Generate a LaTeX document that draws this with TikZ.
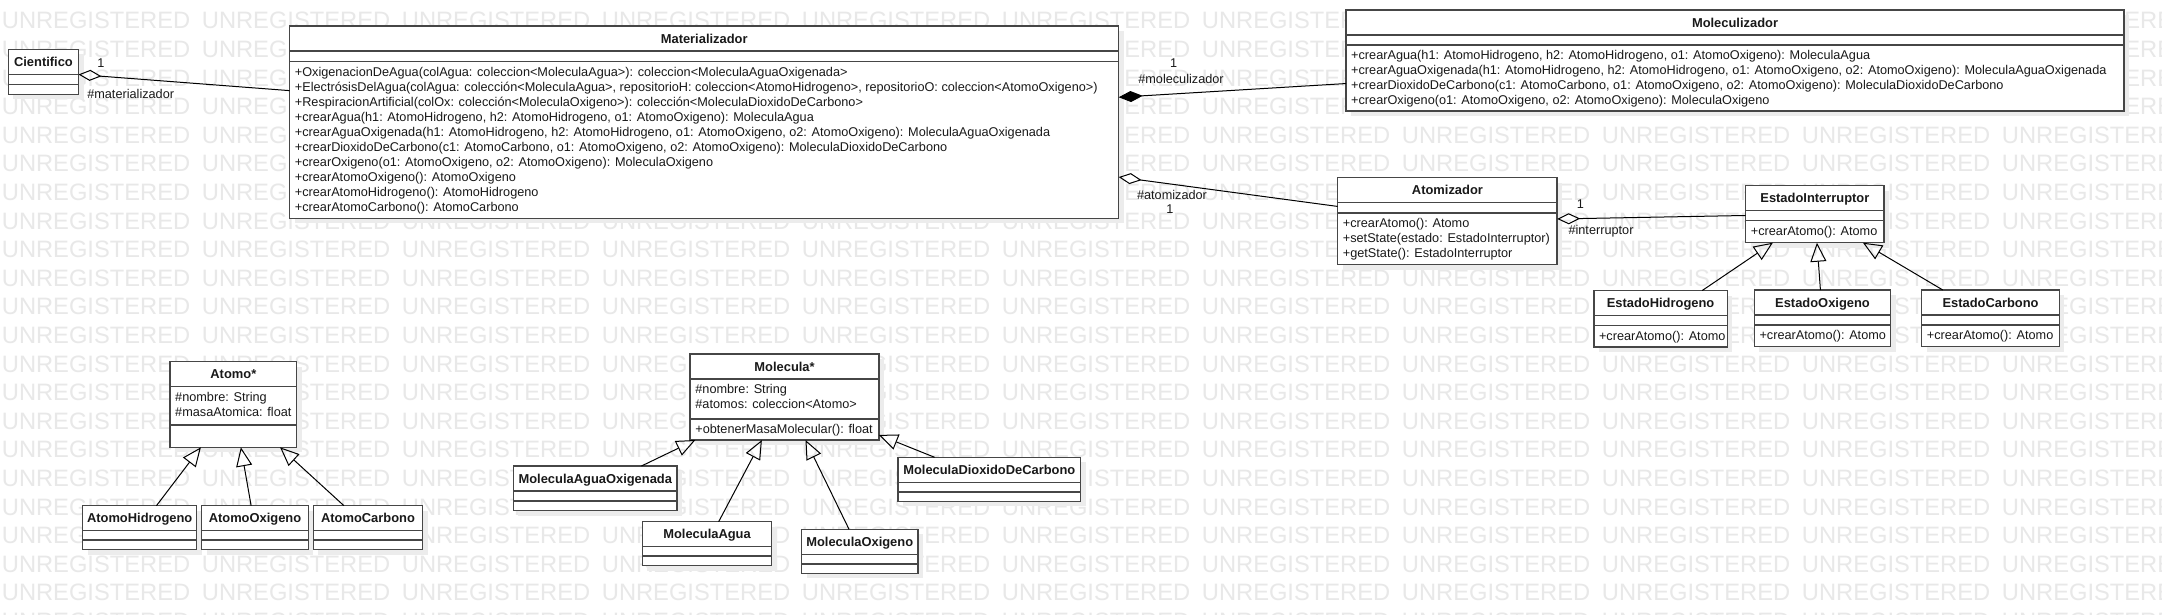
\documentclass[tikz,border=0pt]{standalone}
\usepackage{fontspec}
\setmainfont{Liberation Sans}
\usetikzlibrary{arrows.meta,fit}
\definecolor{boxline}{RGB}{70,70,70}
\definecolor{txt}{RGB}{25,25,25}
\definecolor{wmark}{RGB}{232,232,232}
\definecolor{shadowc}{RGB}{236,236,236}
\tikzset{
  uml/.style={draw=boxline, line width=1.5pt, fill=white, inner sep=0pt, outer sep=0pt, rectangle},
  umltitle/.style={uml, minimum height=25pt, font=\fontsize{12.9}{15}\selectfont\bfseries, text=txt, text height=9.3pt, text depth=0pt, anchor=north west},
  umlcomp/.style={uml, anchor=north west},
  members/.style={font=\fontsize{12.7}{15}\selectfont, text=txt, align=left, inner sep=0pt, anchor=north west},
  whole/.style={inner sep=0pt, outer sep=0pt, rectangle},
  conn/.style={line width=1pt, draw=black},
  gen/.style={conn, -{Triangle[open, length=19pt, width=16pt]}},
  agg/.style={conn, {Diamond[open, length=23pt, width=11pt]}-},
  compo/.style={conn, {Diamond[length=24pt, width=11pt]}-},
  mult/.style={font=\fontsize{12.7}{15}\selectfont, text=txt, inner sep=0pt},
  wm/.style={font=\fontsize{23.7}{24}\selectfont, text=wmark, inner sep=0pt, anchor=west},
}
% #1 name, #2 x, #3 y, #4 width, #5 attr height, #6 ops height, #7 title, #8 attrs, #9 ops
\newcommand{\umlclass}[9]{%
  \fill[shadowc] ({#2+5},{#3+5}) rectangle ++({#4},{25+#5+#6});
  \node[umltitle, minimum width=#4pt] (#1-t) at (#2,#3) {#7};
  \node[umlcomp, minimum width=#4pt, minimum height=#5pt] (#1-a) at (#1-t.south west) {};
  \node[umlcomp, minimum width=#4pt, minimum height=#6pt] (#1-o) at (#1-a.south west) {};
  \node[whole, fit=(#1-t)(#1-o)] (#1) {};
  \if\relax\detokenize{#8}\relax\else
    \node[members] (#1-at) at ([shift={(5,2.5)}]#1-a.north west) {\rule{0pt}{12pt}#8};
  \fi
  \if\relax\detokenize{#9}\relax\else
    \node[members] (#1-ot) at ([shift={(5,2.5)}]#1-o.north west) {\rule{0pt}{12pt}#9};
  \fi
}
\begin{document}
\begin{tikzpicture}[x=1pt, y=-1pt]
\useasboundingbox (0,0) rectangle (2162,614);
\clip (0,0) rectangle (2162,614);
\fill[white] (0,0) rectangle (2162,614);
% watermark
\foreach \r in {0,...,21}{
  \foreach \c in {0,...,10}{
    \node[wm] (wm-\r-\c) at ({1.7+200*\c},{20.7+28.6*\r}) {UNREGISTERED};
  }
}
% classes
\umlclass{cientifico}{8.4}{49.3}{70.1}{10}{10}{Cientifico}{}{}
\umlclass{materializador}{289.7}{26}{829}{10.3}{157}{Materializador}{}{%
+OxigenacionDeAgua(colAgua: coleccion<MoleculaAgua>): coleccion<MoleculaAguaOxigenada>\\
+ElectrósisDelAgua(colAgua: colección<MoleculaAgua>, repositorioH: coleccion<AtomoHidrogeno>, repositorioO: coleccion<AtomoOxigeno>)\\
+RespiracionArtificial(colOx: colección<MoleculaOxigeno>): colección<MoleculaDioxidoDeCarbono>\\
+crearAgua(h1: AtomoHidrogeno, h2: AtomoHidrogeno, o1: AtomoOxigeno): MoleculaAgua\\
+crearAguaOxigenada(h1: AtomoHidrogeno, h2: AtomoHidrogeno, o1: AtomoOxigeno, o2: AtomoOxigeno): MoleculaAguaOxigenada\\
+crearDioxidoDeCarbono(c1: AtomoCarbono, o1: AtomoOxigeno, o2: AtomoOxigeno): MoleculaDioxidoDeCarbono\\
+crearOxigeno(o1: AtomoOxigeno, o2: AtomoOxigeno): MoleculaOxigeno\\
+crearAtomoOxigeno(): AtomoOxigeno\\
+crearAtomoHidrogeno(): AtomoHidrogeno\\
+crearAtomoCarbono(): AtomoCarbono}
\umlclass{moleculizador}{1346}{10}{778}{10}{66}{Moleculizador}{}{%
+crearAgua(h1: AtomoHidrogeno, h2: AtomoHidrogeno, o1: AtomoOxigeno): MoleculaAgua\\
+crearAguaOxigenada(h1: AtomoHidrogeno, h2: AtomoHidrogeno, o1: AtomoOxigeno, o2: AtomoOxigeno): MoleculaAguaOxigenada\\
+crearDioxidoDeCarbono(c1: AtomoCarbono, o1: AtomoOxigeno, o2: AtomoOxigeno): MoleculaDioxidoDeCarbono\\
+crearOxigeno(o1: AtomoOxigeno, o2: AtomoOxigeno): MoleculaOxigeno}
\umlclass{atomizador}{1337.7}{177.5}{219.5}{10.5}{51.5}{Atomizador}{}{%
+crearAtomo(): Atomo\\
+setState(estado: EstadoInterruptor)\\
+getState(): EstadoInterruptor}
\umlclass{interruptor}{1745.7}{185.7}{138.3}{10}{22}{EstadoInterruptor}{}{+crearAtomo(): Atomo}
\umlclass{ehidro}{1593.8}{290.5}{133.5}{10}{21.5}{EstadoHidrogeno}{}{+crearAtomo(): Atomo}
\umlclass{eoxi}{1754.3}{290}{136.4}{10}{21.5}{EstadoOxigeno}{}{+crearAtomo(): Atomo}
\umlclass{ecarb}{1921.7}{290}{137.6}{10}{21.5}{EstadoCarbono}{}{+crearAtomo(): Atomo}
\umlclass{atomo}{170}{361.7}{126.7}{38.3}{22.3}{Atomo*}{\#nombre: String\\\#masaAtomica: float}{}
\umlclass{ahidro}{82.7}{505.7}{114}{9.5}{9.5}{AtomoHidrogeno}{}{}
\umlclass{aoxi}{201.7}{505.7}{106.6}{9.5}{9.5}{AtomoOxigeno}{}{}
\umlclass{acarb}{313.3}{505.7}{109.4}{9.5}{9.5}{AtomoCarbono}{}{}
\umlclass{molecula}{690.2}{354}{188.7}{40}{21}{Molecula*}{\#nombre: String\\\#atomos: coleccion<Atomo>}{+obtenerMasaMolecular(): float}
\umlclass{mao}{513.4}{466}{163.8}{10}{9.5}{MoleculaAguaOxigenada}{}{}
\umlclass{magua}{642.4}{521.7}{129.3}{9.5}{9.5}{MoleculaAgua}{}{}
\umlclass{moxi}{801.6}{529.3}{116.3}{9.5}{9.5}{MoleculaOxigeno}{}{}
\umlclass{mdc}{898}{457.3}{182.6}{9.5}{9.5}{MoleculaDioxidoDeCarbono}{}{}
% associations
\draw[agg] (cientifico) -- (materializador);
\draw[compo] (materializador) -- (moleculizador);
\draw[agg] (materializador) -- (atomizador);
\draw[agg] (atomizador) -- (interruptor);
% generalizations
\draw[gen] (ehidro) -- (interruptor);
\draw[gen] (eoxi) -- (interruptor);
\draw[gen] (ecarb) -- (interruptor);
\draw[gen] (ahidro) -- (atomo);
\draw[gen] (aoxi) -- (atomo);
\draw[gen] (acarb) -- (atomo);
\draw[gen] (mao) -- (molecula);
\draw[gen] (magua) -- (molecula);
\draw[gen] (moxi) -- (molecula);
\draw[gen] (mdc) -- (molecula);
% labels
\node[mult] (l-c1) at (101,62.7) {1};
\node[mult] (l-c2) at (130.7,94.3) {\#materializador};
\node[mult] (l-m1) at (1173.6,62.7) {1};
\node[mult] (l-m2) at (1181,79.3) {\#moleculizador};
\node[mult] (l-a1) at (1172,195) {\#atomizador};
\node[mult] (l-a2) at (1170,209.3) {1};
\node[mult] (l-i1) at (1580.5,204.5) {1};
\node[mult] (l-i2) at (1601,231.7) {\#interruptor};
\end{tikzpicture}
\end{document}
